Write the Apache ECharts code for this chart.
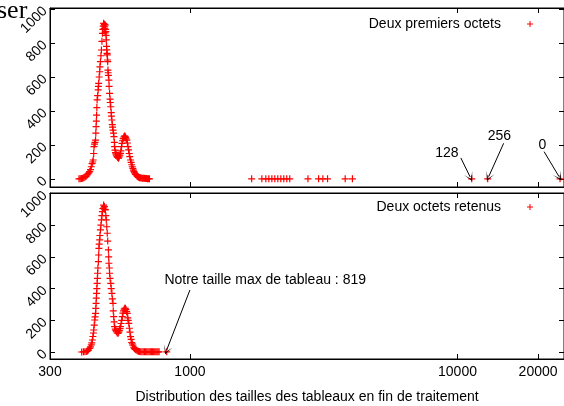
<!DOCTYPE html>
<html>
<head>
<meta charset="utf-8">
<script src="https://cdn.jsdelivr.net/npm/echarts@6/dist/echarts.min.js"></script>
<style>
  html, body { margin: 0; padding: 0; background: #fff; }
  #chart { width: 564px; height: 406px; }
</style>
</head>
<body>
<div id="chart"></div>
<script>
// ticks
const xTicks = [300, 1000, 10000, 20000];
const yTicks = [0, 200, 400, 600, 800, 1000];

// "Deux premiers octets" : taille du tableau / nombre
const premiersTailles = [385, 389, 393, 397, 401, 405, 409, 413, 416, 419, 422, 425, 428, 431, 433, 435, 437, 438, 440, 442,
  444, 445, 446, 447, 448, 449, 450, 452, 454, 455, 456, 458, 460, 461, 463, 465, 467, 469, 471, 473,
  474, 476, 477, 478, 479, 480, 481, 482, 483, 484, 485, 486, 487, 488, 489, 490, 491, 492, 493, 494,
  495, 496, 498, 499, 501, 503, 504, 506, 508, 509, 511, 513, 514, 516, 518, 520, 522, 523, 525, 527,
  529, 531, 534, 537, 539, 541, 544, 547, 550, 552, 555, 557, 560, 563, 566, 570, 572, 575, 578, 581,
  584, 587, 590, 593, 596, 600, 603, 606, 609, 612, 615, 618, 621, 624, 627, 630, 634, 638, 643, 648,
  653, 658, 664, 670, 676, 682, 688, 694, 700, 706,
  1701, 1857, 1922, 1972, 2024, 2076, 2130, 2186, 2243, 2301, 2361, 2761, 3026, 3139, 3268, 3804, 4048,
  11300, 12966, 24160];
const premiersCounts = [1, 2, 3, 5, 7, 10, 15, 24, 30, 36, 43, 55, 72, 90, 100, 112, 150, 190, 205, 215,
  229, 270, 308, 340, 376, 420, 465, 490, 524, 545, 563, 600, 631, 660, 690, 725, 759, 810, 857, 880,
  900, 916, 900, 885, 910, 895, 880, 860, 906, 880, 867, 845, 818, 780, 760, 739, 730, 700, 690, 641,
  625, 610, 582, 545, 504, 470, 450, 425, 390, 370, 347, 320, 305, 288, 270, 249, 215, 190, 170, 155,
  148, 141, 132, 128, 125, 122, 130, 140, 151, 165, 190, 210, 225, 238, 247, 253, 251, 245, 236, 229,
  212, 190, 171, 150, 132, 112, 98, 84, 72, 63, 52, 44, 37, 31, 27, 24, 18, 14, 11, 8,
  7, 6, 5, 4, 4, 3, 3, 2, 2, 1,
  1, 1, 1, 1, 1, 1, 1, 1, 1, 1, 1, 1, 1, 1, 1, 1, 1,
  1, 1, 1];

// "Deux octets retenus"
const retenusTailles = [394, 400, 405, 410, 414, 418, 422, 425, 428, 430, 432, 434, 436, 437, 439, 441, 442, 444, 445, 446,
  447, 448, 449, 450, 451, 452, 453, 455, 456, 457, 458, 460, 461, 463, 465, 467, 469, 471, 473, 476,
  477, 479, 481, 483, 485, 487, 489, 491, 493, 496, 497, 498, 500, 501, 503, 506, 508, 511, 513, 516,
  517, 519, 521, 523, 526, 529, 531, 535, 539, 542, 545, 548, 550, 553, 556, 559, 562, 565, 568, 571,
  574, 577, 580, 583, 586, 588, 591, 594, 597, 600, 603, 606, 609, 612, 616, 620, 625, 630, 636, 642,
  648, 655, 662, 669, 676, 683, 690, 697, 704, 711, 718, 725, 732, 739, 746, 753, 760, 767, 819];
const retenusCounts = [0, 1, 2, 4, 7, 12, 23, 32, 45, 58, 76, 98, 120, 139, 170, 202, 222, 244, 275, 307,
  340, 370, 400, 433, 465, 497, 530, 570, 612, 654, 680, 707, 735, 770, 800, 833, 860, 885, 905, 927,
  910, 918, 900, 896, 860, 833, 790, 749, 700, 644, 600, 560, 530, 497, 465, 433, 400, 370, 335, 307,
  260, 223, 190, 160, 145, 135, 128, 120, 118, 125, 135, 148, 160, 180, 200, 223, 245, 260, 270, 276,
  276, 268, 255, 244, 215, 200, 181, 150, 125, 97, 80, 60, 52, 44, 30, 22, 16, 13, 8, 5,
  3, 2, 1, 1, 1, 1, 1, 1, 1, 1, 1, 1, 1, 1, 1, 1, 1, 1, 1];

// annotations (coordonnees en donnees)
const notesHaut = [
  {text: '128', at: [9131, 153], from: [10290, 124], to: [11150, 12]},
  {text: '256', at: [14334, 251], from: [14871, 210], to: [13080, 14]},
  {text: '0', at: [20760, 200], from: [21066, 161], to: [23955, 14]}
];
const notesBas = [
  {text: 'Notre taille max de tableau : 819', at: [803, 454], from: [1000, 391], to: [819, 13], align: 'left'}
];

const plus = 'path://M4.15,0H5.85V4.15H10V5.85H5.85V10H4.15V5.85H0V4.15H4.15Z';
const fleche = 'path://M0,10L5,0L10,10L5,2.5Z';
const police = '"Liberation Sans", Arial, sans-serif';

function zip(xs, ys) {
  return xs.map((x, i) => [x, ys[i]]);
}

function markLines(notes) {
  return {
    silent: true,
    animation: false,
    symbol: ['none', fleche],
    symbolSize: 9,
    lineStyle: {color: '#000', width: 1, type: 'solid'},
    label: {show: false},
    data: notes.map(n => [{coord: n.from}, {coord: n.to}])
  };
}

function markPoints(notes) {
  return {
    silent: true,
    animation: false,
    symbol: 'circle',
    symbolSize: 0,
    label: {show: true, position: 'inside', color: '#000', fontSize: 14, fontFamily: police, formatter: p => p.name},
    data: notes.map(n => ({name: n.text, coord: n.at, label: {align: n.align || 'center'}}))
  };
}

function xAxe(grid, pos, labels) {
  return {
    type: 'log', logBase: 10, gridIndex: grid, position: pos, min: 300, max: 25000,
    axisLine: {show: true, onZero: false, lineStyle: {color: '#000', width: 1}},
    axisTick: {show: true, inside: true, length: 5, customValues: xTicks, lineStyle: {color: '#000'}},
    axisLabel: {show: labels, customValues: xTicks, color: '#000', fontSize: 14, fontFamily: police, margin: 6,
      formatter: v => String(Math.round(v))},
    minorTick: {show: false},
    splitLine: {show: false}
  };
}

function yAxe(grid, pos, min, max, labels) {
  return {
    type: 'value', gridIndex: grid, position: pos, min: min, max: max,
    axisLine: {show: true, onZero: false, lineStyle: {color: '#000', width: 1}},
    axisTick: {show: true, inside: true, length: 5, customValues: yTicks, lineStyle: {color: '#000'}},
    axisLabel: {show: labels, customValues: yTicks, rotate: 45, margin: 5, color: '#000', fontSize: 14, fontFamily: police,
      formatter: v => String(v)},
    splitLine: {show: false}
  };
}

const chart = echarts.init(document.getElementById('chart'));

const xBas = xAxe(1, 'bottom', true);
xBas.name = 'Distribution des tailles des tableaux en fin de traitement';
xBas.nameLocation = 'middle';
xBas.nameGap = 31;
xBas.nameTextStyle = {color: '#000', fontSize: 14, fontFamily: police};

const option = {
  animation: false,
  backgroundColor: '#fff',
  grid: [
    {left: 50, top: 8, width: 517, height: 179, show: true, borderColor: '#000', borderWidth: 1},
    {left: 50, top: 193, width: 517, height: 166, show: true, borderColor: '#000', borderWidth: 1}
  ],
  legend: [
    {data: ['Deux premiers octets'], right: 26, top: 12, align: 'right', itemWidth: 6, itemHeight: 6,
      textStyle: {color: '#000', fontSize: 14, fontFamily: police, padding: [0, 21, 0, 0]}},
    {data: ['Deux octets retenus'], right: 26, top: 195, align: 'right', itemWidth: 6, itemHeight: 6,
      textStyle: {color: '#000', fontSize: 14, fontFamily: police, padding: [0, 21, 0, 0]}}
  ],
  xAxis: [xAxe(0, 'bottom', false), xBas, xAxe(0, 'top', false), xAxe(1, 'top', false)],
  yAxis: [
    yAxe(0, 'left', -47, 1006, true),
    yAxe(1, 'left', -44, 1003, true),
    yAxe(0, 'right', -47, 1006, false),
    yAxe(1, 'right', -44, 1003, false)
  ],
  graphic: [
    {type: 'text', left: -3, top: -2, style: {text: 'ser', font: '26px "Liberation Serif", serif', fill: '#000'}}
  ],
  series: [
    {
      name: 'Deux premiers octets', type: 'scatter', xAxisIndex: 0, yAxisIndex: 0,
      symbol: plus, symbolSize: 7, itemStyle: {color: '#ff0000', opacity: 1},
      data: zip(premiersTailles, premiersCounts),
      markLine: markLines(notesHaut),
      markPoint: markPoints(notesHaut)
    },
    {
      name: 'Deux octets retenus', type: 'scatter', xAxisIndex: 1, yAxisIndex: 1,
      symbol: plus, symbolSize: 7, itemStyle: {color: '#ff0000', opacity: 1},
      data: zip(retenusTailles, retenusCounts),
      markLine: markLines(notesBas),
      markPoint: markPoints(notesBas)
    }
  ]
};

chart.setOption(option);
</script>
</body>
</html>
